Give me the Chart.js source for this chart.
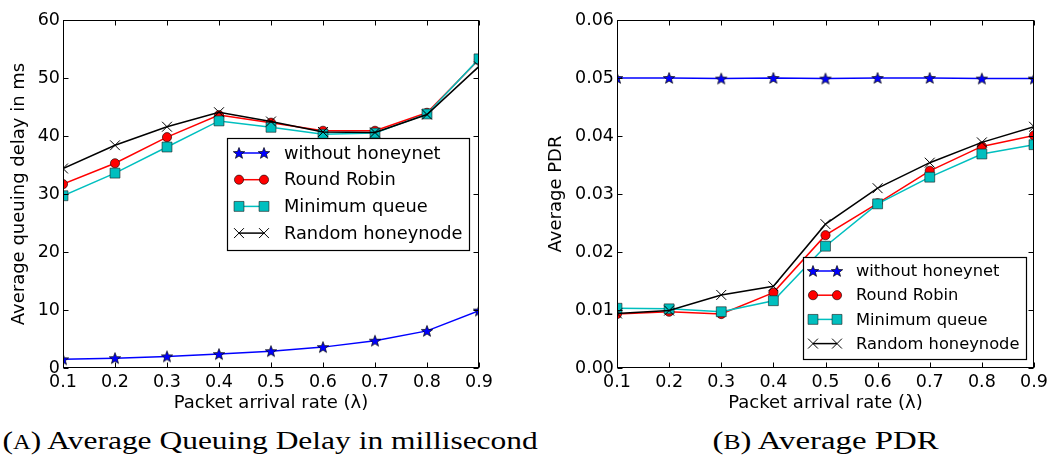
<!DOCTYPE html>
<html>
<head>
<meta charset="utf-8">
<script src="https://cdn.jsdelivr.net/npm/chart.js@4/dist/chart.umd.min.js"></script>
<style>
  body { margin: 0; background: #fff; width: 1058px; height: 460px; overflow: hidden; position: relative; }
  canvas { position: absolute; top: 0; }
  #delayChart { left: 0; }
  #pdrChart { left: 530px; }
  .cap { position: absolute; top: 428px; font-family: 'Liberation Serif', serif; font-size: 26px; line-height: 26px;
         white-space: nowrap; color: #000; transform-origin: 50% 50%; }
  .sc { font-size: 0.78em; }
</style>
</head>
<body>
<canvas id="delayChart" width="530" height="420"></canvas>
<canvas id="pdrChart" width="528" height="420"></canvas>
<div class="cap" id="capA" data-cx="270" data-w="535">(<span class="sc">A</span>) Average Queuing Delay in millisecond</div>
<div class="cap" id="capB" data-cx="825" data-w="226">(<span class="sc">B</span>) Average PDR</div>
<script>
// x values (packet arrival rate)
const rates = [0.1, 0.2, 0.3, 0.4, 0.5, 0.6, 0.7, 0.8, 0.9];
const seriesNames = ['without honeynet', 'Round Robin', 'Minimum queue', 'Random honeynode'];

// (a) average queuing delay, ms
const delayNoHoneynet = [1.5, 1.7, 2.0, 2.4, 2.9, 3.6, 4.7, 6.4, 9.9];
const delayRoundRobin = [31.7, 35.3, 39.8, 43.6, 42.3, 40.9, 40.9, 44.0, 53.2];
const delayMinQueue = [29.7, 33.6, 38.1, 42.6, 41.5, 40.3, 40.5, 43.8, 53.3];
const delayRandom = [34.4, 38.4, 41.6, 44.1, 42.5, 40.7, 40.6, 43.7, 52.0];

// (b) average PDR
const pdrNoHoneynet = [0.0500, 0.0500, 0.0499, 0.0500, 0.0499, 0.0500, 0.0500, 0.0499, 0.0499];
const pdrRoundRobin = [0.0093, 0.0097, 0.0093, 0.0130, 0.0229, 0.0284, 0.0340, 0.0382, 0.0401];
const pdrMinQueue = [0.0103, 0.0102, 0.0097, 0.0116, 0.0210, 0.0283, 0.0329, 0.0369, 0.0385];
const pdrRandom = [0.0094, 0.0099, 0.0126, 0.0141, 0.0248, 0.0310, 0.0354, 0.0389, 0.0416];

// tick values
const rateTicks = [0.1, 0.2, 0.3, 0.4, 0.5, 0.6, 0.7, 0.8, 0.9];
const delayTicks = [0, 10, 20, 30, 40, 50, 60];
const pdrTicks = [0, 0.01, 0.02, 0.03, 0.04, 0.05, 0.06];

const FONT = "'DejaVu Sans', sans-serif";

// filled five-point star marker (matplotlib '*')
function makeStar(size, outer) {
  const c = document.createElement('canvas');
  c.width = c.height = size;
  const g = c.getContext('2d');
  const cx = size / 2, cy = size / 2 + 0.5, inner = outer * 0.42;
  g.beginPath();
  for (let i = 0; i < 10; i++) {
    const r = i % 2 ? inner : outer;
    const a = -Math.PI / 2 + i * Math.PI / 5;
    g.lineTo(cx + r * Math.cos(a), cy + r * Math.sin(a));
  }
  g.closePath();
  g.fillStyle = '#0000ff';
  g.fill();
  g.lineWidth = 0.7;
  g.strokeStyle = '#000';
  g.stroke();
  return c;
}
const starImg = makeStar(14, 6);

function points(ys) {
  return rates.map((x, i) => ({ x, y: ys[i] }));
}

function buildDatasets(a, b, c, d) {
  return [
    { label: seriesNames[0], data: points(a), borderColor: '#0000ff', borderWidth: 1.5,
      pointStyle: starImg, pointRadius: 6, order: 4 },
    { label: seriesNames[1], data: points(b), borderColor: '#ff0000', borderWidth: 1.5,
      pointStyle: 'circle', pointRadius: 4.6, pointBackgroundColor: '#ff0000',
      pointBorderColor: '#000', pointBorderWidth: 0.6, order: 3 },
    { label: seriesNames[2], data: points(c), borderColor: '#00bfbf', borderWidth: 1.5,
      pointStyle: 'rect', pointRadius: 7, pointBackgroundColor: '#00bfbf',
      pointBorderColor: '#1a1a1a', pointBorderWidth: 0.6, order: 2 },
    { label: seriesNames[3], data: points(d), borderColor: '#000', borderWidth: 1.5,
      pointStyle: 'crossRot', pointRadius: 7, pointBorderColor: '#000',
      pointBorderWidth: 1, order: 1 },
  ];
}

function drawMarker(ctx, ds, x, y) {
  const st = ds.pointStyle, r = ds.pointRadius;
  ctx.save();
  ctx.fillStyle = ds.pointBackgroundColor || ds.borderColor;
  ctx.strokeStyle = ds.pointBorderColor || ds.borderColor;
  ctx.lineWidth = ds.pointBorderWidth || 1;
  if (st instanceof HTMLCanvasElement) {
    ctx.drawImage(st, x - st.width / 2, y - st.height / 2);
  } else if (st === 'circle') {
    ctx.beginPath(); ctx.arc(x, y, r, 0, Math.PI * 2); ctx.fill(); ctx.stroke();
  } else if (st === 'rect') {
    const s = r * Math.SQRT1_2;
    ctx.beginPath(); ctx.rect(x - s, y - s, 2 * s, 2 * s); ctx.fill(); ctx.stroke();
  } else if (st === 'crossRot') {
    const s = r * Math.SQRT1_2;
    ctx.beginPath();
    ctx.moveTo(x - s, y - s); ctx.lineTo(x + s, y + s);
    ctx.moveTo(x - s, y + s); ctx.lineTo(x + s, y - s);
    ctx.stroke();
  }
  ctx.restore();
}

// frame with inward ticks on all four sides + boxed legend inside the axes
const mplLook = {
  id: 'mplLook',
  afterDatasetsDraw(chart, args, opts) {
    const { ctx, chartArea: a, scales } = chart;
    ctx.save();
    ctx.strokeStyle = '#000';
    ctx.lineWidth = 1;
    const L = Math.round(a.left) + 0.5, R = Math.round(a.right) - 0.5;
    const T = Math.round(a.top) + 0.5, B = Math.round(a.bottom) - 0.5;
    ctx.beginPath();
    scales.x.ticks.forEach(t => {
      const px = Math.round(scales.x.getPixelForValue(t.value)) + 0.5;
      ctx.moveTo(px, B); ctx.lineTo(px, B - 5);
      ctx.moveTo(px, T); ctx.lineTo(px, T + 5);
    });
    scales.y.ticks.forEach(t => {
      const py = Math.round(scales.y.getPixelForValue(t.value)) + 0.5;
      ctx.moveTo(L, py); ctx.lineTo(L + 5, py);
      ctx.moveTo(R, py); ctx.lineTo(R - 5, py);
    });
    ctx.stroke();
    ctx.strokeRect(L, T, R - L, B - T);

    // legend
    const lg = opts.legend;
    ctx.fillStyle = '#fff';
    ctx.fillRect(lg.x, lg.y, lg.w, lg.h);
    ctx.lineWidth = 1.2;
    ctx.strokeRect(lg.x + 0.5, lg.y + 0.5, lg.w, lg.h);
    ctx.font = lg.fontSize + 'px ' + FONT;
    ctx.textBaseline = 'middle';
    chart.data.datasets.forEach((ds, i) => {
      const y = lg.row0 + i * lg.gap;
      ctx.strokeStyle = ds.borderColor;
      ctx.lineWidth = ds.borderWidth;
      ctx.beginPath(); ctx.moveTo(lg.x1, y); ctx.lineTo(lg.x2, y); ctx.stroke();
      drawMarker(ctx, ds, lg.x1, y);
      drawMarker(ctx, ds, lg.x2, y);
      ctx.fillStyle = '#000';
      ctx.fillText(ds.label, lg.tx, y + 1);
    });
    ctx.restore();
  }
};

function makeChart(id, datasets, yTicks, yFmt, yTitle, yWidth, yTitlePad, padRight, legend) {
  return new Chart(document.getElementById(id), {
    type: 'line',
    data: { datasets },
    plugins: [mplLook],
    options: {
      responsive: false,
      animation: false,
      events: [],
      layout: { padding: { top: 20, right: padRight, left: 0, bottom: 0 } },
      plugins: { legend: { display: false }, tooltip: { enabled: false }, mplLook: { legend } },
      scales: {
        x: {
          type: 'linear', min: rateTicks[0], max: rateTicks[rateTicks.length - 1],
          afterBuildTicks: s => { s.ticks = rateTicks.map(v => ({ value: v })); },
          afterFit: s => { s.height = 52; },
          grid: { display: false, drawTicks: false },
          border: { display: false },
          ticks: { color: '#000', padding: 4, maxRotation: 0, font: { family: FONT, size: 17.5 },
                   callback: v => v.toFixed(1) },
          title: { display: true, text: 'Packet arrival rate (λ)', color: '#000',
                   font: { family: FONT, size: 18 }, padding: { top: 0, bottom: 6 } },
        },
        y: {
          min: yTicks[0], max: yTicks[yTicks.length - 1],
          afterBuildTicks: s => { s.ticks = yTicks.map(v => ({ value: v })); },
          afterFit: s => { s.width = yWidth; },
          grid: { display: false, drawTicks: false },
          border: { display: false },
          ticks: { color: '#000', padding: 3, font: { family: FONT, size: 17.5 }, callback: yFmt },
          title: { display: true, text: yTitle, color: '#000',
                   font: { family: FONT, size: 18 }, padding: { top: yTitlePad, bottom: 0 } },
        },
      },
    },
  });
}

makeChart('delayChart',
  buildDatasets(delayNoHoneynet, delayRoundRobin, delayMinQueue, delayRandom),
  delayTicks, v => String(v), 'Average queuing delay in ms', 63, 9, 51,
  { x: 227, y: 138, w: 242, h: 112, row0: 153, gap: 26.7, x1: 239, x2: 264, tx: 284, fontSize: 17.8 });

makeChart('pdrChart',
  buildDatasets(pdrNoHoneynet, pdrRoundRobin, pdrMinQueue, pdrRandom),
  pdrTicks, v => v.toFixed(2), 'Average PDR', 87, 16, 24,
  { x: 273, y: 257, w: 223, h: 102, row0: 271, gap: 24.2, x1: 283, x2: 307, tx: 326, fontSize: 16.3 });

// captions: stretch the serif text to the width of the original captions
document.querySelectorAll('.cap').forEach(el => {
  const w = el.offsetWidth;
  const k = Number(el.dataset.w) / w;
  el.style.left = (Number(el.dataset.cx) - w / 2) + 'px';
  el.style.transform = 'scaleX(' + k.toFixed(3) + ')';
});
</script>
</body>
</html>
